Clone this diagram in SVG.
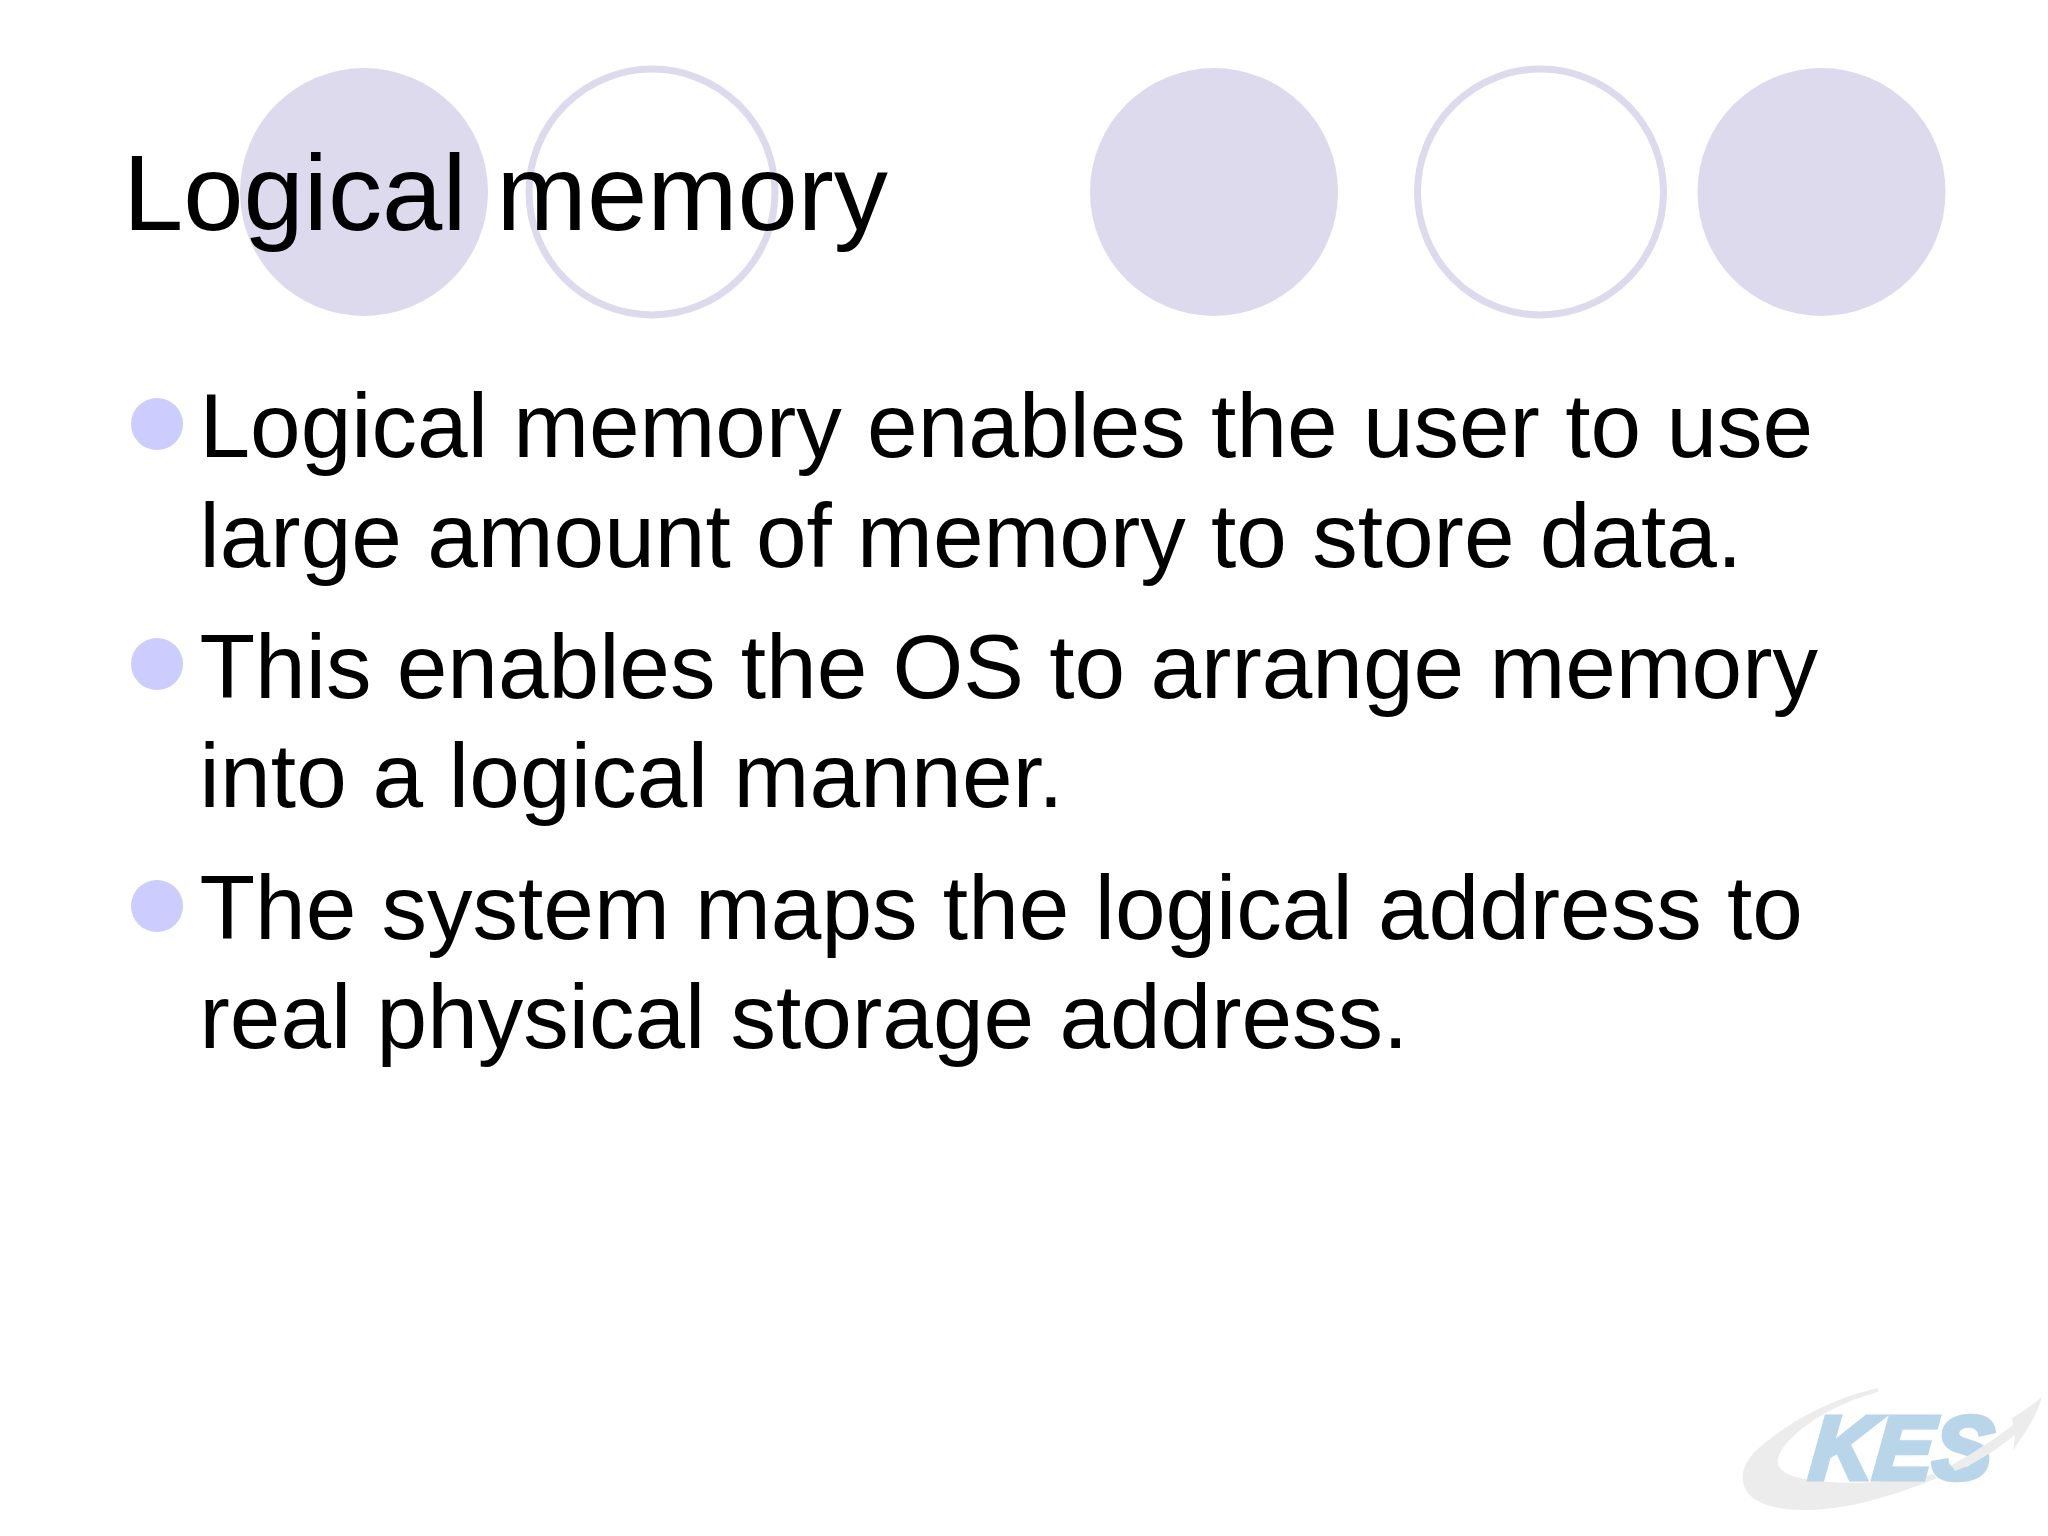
<svg xmlns="http://www.w3.org/2000/svg" width="2048" height="1536" viewBox="0 0 2048 1536">
<style>
.deco{fill:#dcdaec}
.ring{fill:#fff;stroke:#dcdaec;stroke-width:7}
.bullet{fill:#ccccff}
text{font-family:"Liberation Sans",Arial,sans-serif;fill:#000}
.title{font-size:108.4px}
.body{font-size:91px}
.swoosh{fill:#ececec}
.kes{font-size:90px;font-weight:700;font-style:italic;fill:#b8d5e9;stroke:#b8d5e9;stroke-width:5}
</style>
<rect width="2048" height="1536" fill="#fff"/>
<g id="decor">
<circle class="deco" cx="364" cy="192" r="124"/>
<circle class="ring" cx="652" cy="192" r="123"/>
<circle class="deco" cx="1214" cy="192" r="124"/>
<circle class="ring" cx="1540.5" cy="192" r="123"/>
<circle class="deco" cx="1827" cy="192" r="124" transform="translate(-5.5 0)"/>
</g>
<text id="title" class="title" x="123" y="230">Logical memory</text>
<g id="item1">
<circle class="bullet" cx="157" cy="424" r="26"/>
<text class="body" x="199.5" y="457">Logical memory enables the user to use</text>
<text class="body" x="199.5" y="566.5">large amount of memory to store data.</text>
</g>
<g id="item2">
<circle class="bullet" cx="157" cy="664" r="26"/>
<text class="body" x="199.5" y="697.5">This enables the OS to arrange memory</text>
<text class="body" x="199.5" y="807" textLength="864">into a logical manner.</text>
</g>
<g id="item3">
<circle class="bullet" cx="157" cy="906" r="26"/>
<text class="body" x="199.5" y="938.5">The system maps the logical address to</text>
<text class="body" x="199.5" y="1048">real physical storage address.</text>
</g>
<g id="logo">
<g transform="translate(1720 1370) scale(.3333)">
<path class="swoosh" d="M475 55C340 80 180 170 100 250C60 295 55 350 100 385C170 435 320 425 440 395C520 375 590 350 650 325L640 312C560 330 440 345 320 335C230 330 160 310 175 260C200 190 340 100 475 65Z"/>
</g>
<text class="kes" transform="translate(1808 1479) skewX(-5)" textLength="182" lengthAdjust="spacingAndGlyphs">KES</text>
<g transform="translate(1720 1370) scale(.3333)">
<path class="swoosh" d="M695 285C760 250 825 205 880 165L875 145C910 125 945 100 965 80C955 130 915 190 880 240L885 195C830 240 760 285 705 303Z"/>
</g>
</g>
</svg>
